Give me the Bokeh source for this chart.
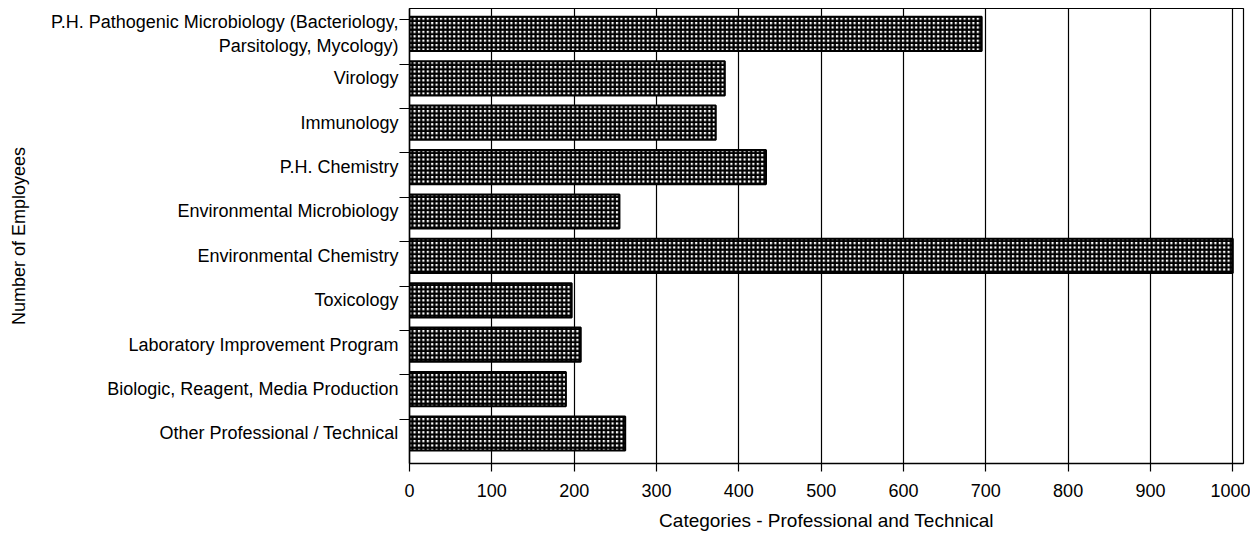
from bokeh.plotting import figure
from bokeh.models import FixedTicker, ColumnDataSource, Range1d
from bokeh.embed import file_html
from bokeh.resources import INLINE

categories = [
    "P.H. Pathogenic Microbiology (Bacteriology,\nParsitology, Mycology)",
    "Virology",
    "Immunology",
    "P.H. Chemistry",
    "Environmental Microbiology",
    "Environmental Chemistry",
    "Toxicology",
    "Laboratory Improvement Program",
    "Biologic, Reagent, Media Production",
    "Other Professional / Technical",
]
employees = [695, 383, 372, 433, 255, 1000, 197, 208, 190, 262]
x_ticks = [0, 100, 200, 300, 400, 500, 600, 700, 800, 900, 1000]

n = len(categories)
ypos = [n - 1 - i for i in range(n)]
src = ColumnDataSource(dict(y=ypos, right=employees, cat=categories))

FONT = "Liberation Sans"

p = figure(width=1250, height=535, output_backend="svg", toolbar_location=None,
           x_range=Range1d(0, 1013), y_range=Range1d(-0.676, 9.572),
           min_border_left=409, min_border_right=7, min_border_top=8,
           min_border_bottom=72)

p.outline_line_color = "black"
p.outline_line_width = 1.2
p.background_fill_color = "white"
p.border_fill_color = "white"

p.hbar(y="y", right="right", left=0, height=0.77, source=src,
       fill_color="white", line_color="black", line_width=2,
       hatch_pattern="+", hatch_color="black", hatch_scale=4.4, hatch_weight=2.2)

# grid
p.xgrid.ticker = FixedTicker(ticks=x_ticks)
p.xgrid.grid_line_color = "black"
p.xgrid.grid_line_width = 1.2
p.ygrid.grid_line_color = None

# x axis
xa = p.xaxis[0]
xa.ticker = FixedTicker(ticks=x_ticks)
xa.axis_label = "Categories - Professional and Technical"
xa.axis_label_text_font = FONT
xa.axis_label_text_font_size = "19px"
xa.axis_label_text_font_style = "normal"
xa.axis_label_text_color = "black"
xa.axis_label_standoff = 10
xa.major_label_text_font = FONT
xa.major_label_text_font_size = "18px"
xa.major_label_text_color = "black"
xa.major_label_standoff = 12
xa.major_tick_out = 8
xa.major_tick_in = 0
xa.major_tick_line_color = "black"
xa.major_tick_line_width = 1.2
xa.minor_tick_line_color = None
xa.axis_line_color = "black"
xa.axis_line_width = 1.5

# y axis
ya = p.yaxis[0]
ya.ticker = FixedTicker(ticks=ypos, minor_ticks=[v - 0.68 for v in range(n + 1)])
ya.major_label_overrides = {y: c for y, c in zip(ypos, categories)}
ya.axis_label = "Number of Employees"
ya.axis_label_text_font = FONT
ya.axis_label_text_font_size = "18px"
ya.axis_label_text_font_style = "normal"
ya.axis_label_text_color = "black"
ya.axis_label_standoff = 19
ya.major_label_text_font = FONT
ya.major_label_text_font_size = "18px"
ya.major_label_text_color = "black"
ya.major_label_standoff = 1
ya.major_tick_out = 0
ya.major_tick_in = 0
ya.minor_tick_out = 10
ya.minor_tick_in = 0
ya.minor_tick_line_color = "black"
ya.minor_tick_line_width = 1.2
ya.axis_line_color = "black"
ya.axis_line_width = 1.5

open("out.html", "w").write(file_html(p, INLINE))
